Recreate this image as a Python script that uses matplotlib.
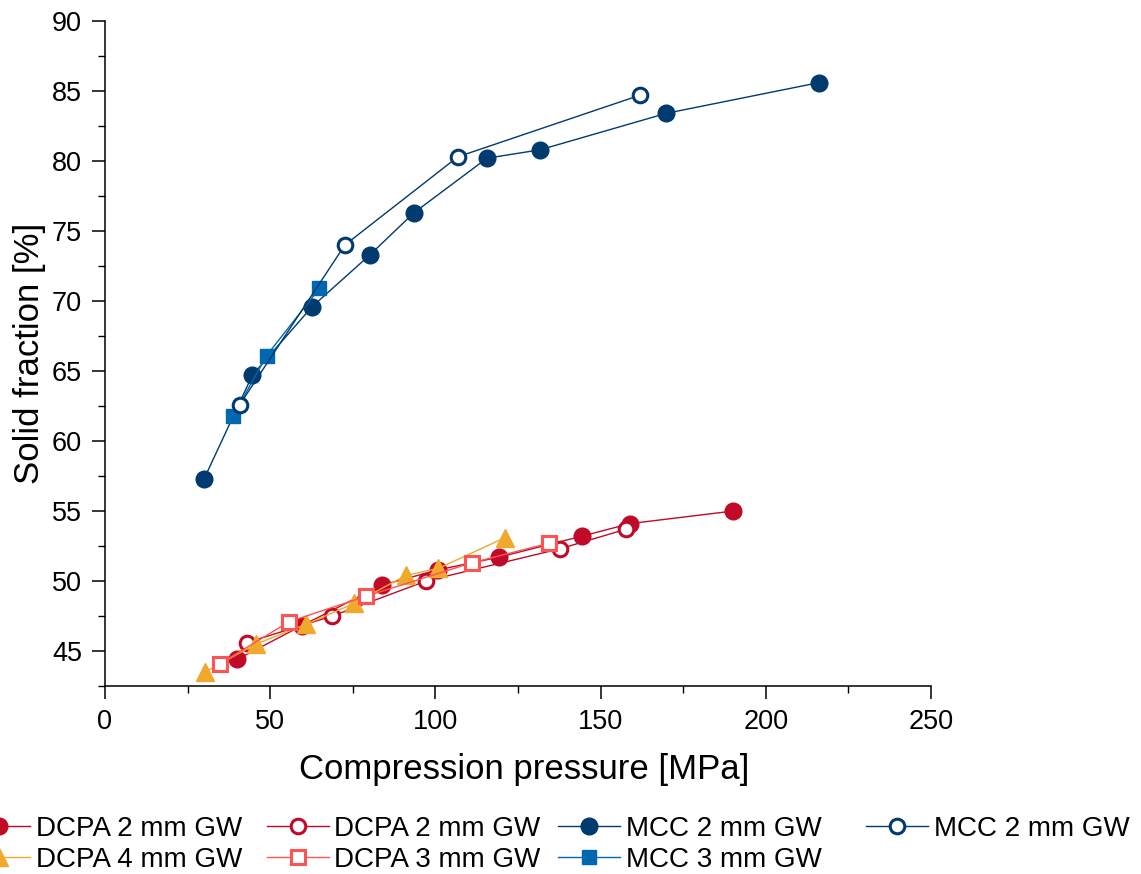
import matplotlib
matplotlib.use("Agg")
import matplotlib.pyplot as plt
from matplotlib.ticker import MultipleLocator

plt.rcParams['font.family'] = ['Liberation Sans', 'DejaVu Sans']

# Compression pressure [MPa] and solid fraction [%] per formulation
dcpa2_fill_x = [40.0, 59.5, 83.7, 100.9, 119.2, 144.3, 158.9, 190.2]
dcpa2_fill_y = [44.4, 46.8, 49.7, 50.8, 51.7, 53.2, 54.1, 55.0]

dcpa2_open_x = [42.9, 68.8, 97.2, 137.7, 157.7]
dcpa2_open_y = [45.6, 47.5, 50.0, 52.3, 53.7]

dcpa4_x = [30.3, 45.7, 60.8, 75.4, 91.1, 100.9, 121.1]
dcpa4_y = [43.5, 45.5, 46.9, 48.4, 50.4, 50.9, 53.1]

dcpa3_x = [34.8, 55.8, 78.9, 111.0, 134.4]
dcpa3_y = [44.1, 47.1, 48.9, 51.3, 52.7]

mcc2_fill_x = [30.0, 44.6, 62.7, 80.2, 93.5, 115.6, 131.7, 169.8, 216.1]
mcc2_fill_y = [57.3, 64.7, 69.6, 73.3, 76.3, 80.2, 80.8, 83.4, 85.6]

mcc2_open_x = [40.8, 72.6, 106.8, 161.9]
mcc2_open_y = [62.6, 74.0, 80.3, 84.7]

mcc3_x = [38.8, 48.9, 64.9]
mcc3_y = [61.8, 66.1, 70.9]

RED = '#C00A28'
ORANGE = '#F0A92C'
LIGHTRED = '#FF5252'
NAVY = '#003A6E'
BLUE = '#0067B1'

W, H = 1141, 874
fig = plt.figure(figsize=(W / 100, H / 100), dpi=100)
ax = fig.add_axes([105 / W, 1 - 686 / H, 826 / W, 665 / H])

lw = 1.0
h_dcpa2f, = ax.plot(dcpa2_fill_x, dcpa2_fill_y, '-o', color=RED, lw=lw,
                    ms=12, mfc=RED, mec=RED, label='DCPA 2 mm GW')
h_dcpa2o, = ax.plot(dcpa2_open_x, dcpa2_open_y, '-o', color=RED, lw=lw,
                    ms=10.5, mfc='white', mec=RED, mew=2.2, label='DCPA 2 mm GW')
h_dcpa4, = ax.plot(dcpa4_x, dcpa4_y, '-^', color=ORANGE, lw=lw,
                   ms=13, mfc=ORANGE, mec=ORANGE, label='DCPA 4 mm GW')
h_dcpa3, = ax.plot(dcpa3_x, dcpa3_y, '-s', color=LIGHTRED, lw=lw,
                   ms=9.5, mfc='white', mec=LIGHTRED, mew=2.2, label='DCPA 3 mm GW')
h_mcc2f, = ax.plot(mcc2_fill_x, mcc2_fill_y, '-o', color=NAVY, lw=lw,
                   ms=12, mfc=NAVY, mec=NAVY, label='MCC 2 mm GW')
h_mcc3, = ax.plot(mcc3_x, mcc3_y, '-s', color=BLUE, lw=lw,
                  ms=10.5, mfc=BLUE, mec=BLUE, label='MCC 3 mm GW')
h_mcc2o, = ax.plot(mcc2_open_x, mcc2_open_y, '-o', color=NAVY, lw=lw,
                   ms=10.5, mfc='white', mec=NAVY, mew=2.2, label='MCC 2 mm GW')

ax.set_xlim(0, 250)
ax.set_ylim(42.5, 90)
ax.xaxis.set_major_locator(MultipleLocator(50))
ax.xaxis.set_minor_locator(MultipleLocator(25))
ax.set_yticks([45, 50, 55, 60, 65, 70, 75, 80, 85, 90])
ax.yaxis.set_minor_locator(MultipleLocator(2.5))

for s in ('top', 'right'):
    ax.spines[s].set_visible(False)
for s in ('left', 'bottom'):
    ax.spines[s].set_linewidth(1.1)

ax.tick_params(which='major', direction='out', length=9.5, width=1.1,
               labelsize=19.5, pad=7)
ax.tick_params(which='minor', direction='out', length=5, width=1.0)

ax.set_xlabel('Compression pressure [MPa]', fontsize=25)
ax.set_ylabel('Solid fraction [%]', fontsize=25)
ax.xaxis.set_label_coords(0.508, -0.1)
ax.yaxis.set_label_coords(-0.072, 0.5)

# Legend laid out as four columns below the plot
columns = [
    (0, [h_dcpa2f, h_dcpa4]),
    (299, [h_dcpa2o, h_dcpa3]),
    (590, [h_mcc2f, h_mcc3]),
    (898, [h_mcc2o]),
]
for marker_x, hs in columns:
    leg = fig.legend(handles=hs, labels=[h.get_label() for h in hs],
                     loc='upper left',
                     bbox_to_anchor=((marker_x - 32) / W, 1 - 816 / H),
                     frameon=False, fontsize=20, handlelength=2.23,
                     handletextpad=0.2, labelspacing=0.17,
                     borderpad=0, borderaxespad=0)

fig.savefig('out.png', dpi=100)
